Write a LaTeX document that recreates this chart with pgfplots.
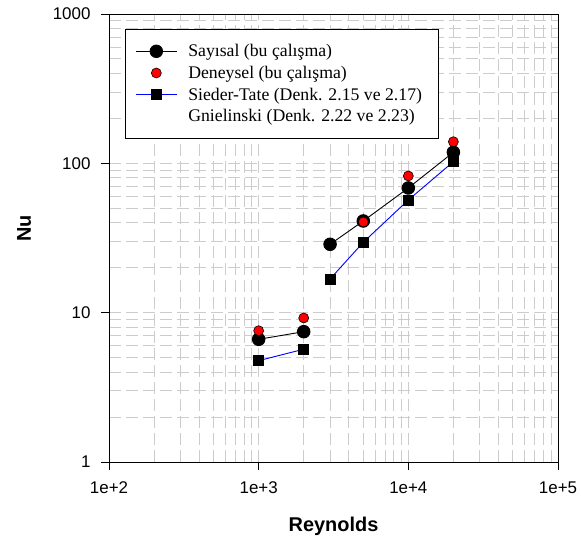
\documentclass[border=0pt]{standalone}
\usepackage{pgfplots}
\pgfplotsset{compat=1.18}
\usepackage{fontspec}
\setmainfont{Liberation Serif}
\newfontfamily\arial{Liberation Sans}
\begin{document}
\begin{tikzpicture}
\begin{axis}[
  scale only axis,
  width=449bp, height=448bp,
  xmode=log, ymode=log,
  xmin=100, xmax=100000, ymin=1, ymax=1000,
  xtick={100,1000,10000,100000},
  xticklabels={1e+2,1e+3,1e+4,1e+5},
  ytick={1,10,100,1000},
  yticklabels={1,10,100,1000},
  xtick pos=bottom, ytick pos=left,
  tick align=outside,
  major tick length=8bp,
  minor tick length=0bp,
  tick style={black, line width=0.8bp},
  axis line style={black, line width=0.8bp},
  grid=both,
  major grid style={gray!40, line width=0.9bp, dash pattern=on 12bp off 5bp},
  minor grid style={gray!40, line width=0.9bp, dash pattern=on 12bp off 5bp},
  ticklabel style={font=\arial\fontsize{17}{20}\selectfont},
  xticklabel style={yshift=-8bp},
  yticklabel style={xshift=-7bp},
  xlabel={Reynolds}, ylabel={Nu},
  label style={font=\arial\bfseries\fontsize{20}{24}\selectfont},
  xlabel style={at={(axis description cs:0.5,-0.156)}, anchor=base},
  ylabel style={at={(axis description cs:-0.189,0.522)}, anchor=center},
  legend style={at={(axis description cs:0.0356,0.9665)}, anchor=north west,
    font=\fontsize{17.8}{21.5}\selectfont, draw=black, line width=0.8bp,
    fill=white, inner xsep=10bp, inner ysep=13bp, row sep=3.9bp,
    column sep=9bp, cells={anchor=west}},
  legend cell align=left,
]
% Sieder-Tate / Gnielinski
\addplot[blue, line width=0.9bp, mark=square*, mark size=5bp,
  mark options={fill=black, draw=black, solid}, forget plot]
  coordinates {(1000,4.77) (2000,5.69)};
\addplot[blue, line width=0.9bp, mark=square*, mark size=5bp,
  mark options={fill=black, draw=black, solid}, forget plot]
  coordinates {(3000,16.8) (5000,29.6) (10000,56.8) (20000,102.6)};
% Sayisal
\addplot[black, line width=0.9bp, mark=*, mark size=6.3bp,
  mark options={fill=black, draw=black}, forget plot]
  coordinates {(1000,6.63) (2000,7.46)};
\addplot[black, line width=0.9bp, mark=*, mark size=6.3bp,
  mark options={fill=black, draw=black}, forget plot]
  coordinates {(3000,28.7) (5000,41.1) (10000,68.4) (20000,118.6)};
% Deneysel
\addplot[only marks, mark=*, mark size=5bp,
  mark options={fill=red, draw=black, line width=0.6bp}, forget plot]
  coordinates {(1000,7.57) (2000,9.21) (5000,40.5) (10000,82.3) (20000,139.6)};

\addlegendimage{legend image code/.code={
  \draw[black, line width=0.9bp] (0bp,0bp) -- (41bp,0bp);
  \fill[black] (20.5bp,0bp) circle (6.3bp);}}
\addlegendentry{Sayısal (bu çalışma)}
\addlegendimage{legend image code/.code={
  \path (0bp,0bp) (41bp,0bp);
  \filldraw[fill=red, draw=black, line width=0.6bp] (20.5bp,0bp) circle (5bp);}}
\addlegendentry{Deneysel (bu çalışma)}
\addlegendimage{legend image code/.code={
  \draw[blue, line width=0.9bp] (0bp,0bp) -- (41bp,0bp);
  \fill[black] (15.5bp,-5bp) rectangle (25.5bp,5bp);}}
\addlegendentry{Sieder-Tate (Denk. 2.15 ve 2.17)}
\addlegendimage{legend image code/.code={\path (0bp,0bp) (41bp,0bp);}}
\addlegendentry{Gnielinski (Denk. 2.22 ve 2.23)\hspace*{12bp}}
\end{axis}
\path (current axis.south west) ++(-109bp,-82bp);
\path (current axis.north east) ++(23bp,14bp);
\end{tikzpicture}
\end{document}
